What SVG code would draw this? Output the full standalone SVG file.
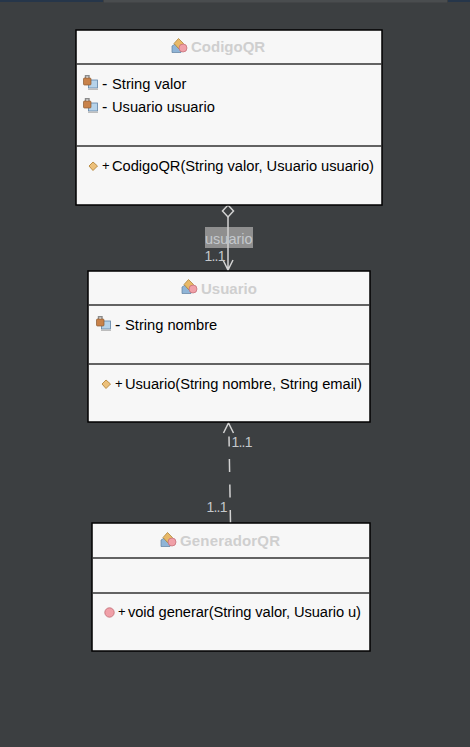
<svg xmlns="http://www.w3.org/2000/svg" width="470" height="747" viewBox="0 0 470 747">
<style>
text{font-family:"Liberation Sans",Arial,sans-serif}
.box{fill:#f7f7f7;stroke:#000;stroke-width:1.5}
.sep{stroke:#333;stroke-width:1.5}
.title{font-size:15px;font-weight:bold;fill:#cfcfcf}
.mem{font-size:14.700px;fill:#000}
.sign{font-size:13px;fill:#000}
.minus{font-size:16px;fill:#000}
.lab{font-size:14px;fill:#c4c8cc}
.conn{fill:none;stroke:#d2d2d2;stroke-width:1.5}
</style>
<defs>
<g id="clsIcon">
<path d="M0 8L5 5L9 9L9 14.500L0 14.500Z" fill="#8fb4d6" stroke="#5f7f9f" stroke-width=".7"/>
<path d="M6.500 0.500L11.500 5.500L6.500 10.500L2 5.500Z" fill="#e8b868" stroke="#a67c30" stroke-width=".7"/>
<circle cx="11" cy="10" r="4" fill="#f0a0a8" stroke="#c06a72" stroke-width=".7"/>
</g>
<g id="attrIcon">
<rect x="5.500" y="5" width="9" height="8" fill="#b6d3ea" stroke="#5f82a5" stroke-width=".8"/>
<rect x="5" y="13.500" width="10" height="1.500" fill="#bdbdbd"/>
<path d="M2.500 3V0.800H6V3" fill="none" stroke="#8a8a8a" stroke-width="1.400"/>
<rect x="0.500" y="3" width="7.500" height="7" rx="1" fill="#c8824a" stroke="#8a5a32" stroke-width=".7"/>
</g>
<g id="ctorIcon">
<path d="M5 1L9.500 5L5 9.500L1 5Z" fill="#ecc07a" stroke="#bc8f48" stroke-width="1" stroke-linejoin="round"/>
</g>
</defs>
<rect width="470" height="747" fill="#3c3f41"/>
<rect x="0" y="0" width="103" height="2" fill="#26364a"/>
<rect x="104" y="0" width="343" height="2.500" fill="#4a4d4f"/>
<rect x="448" y="0" width="22" height="2" fill="#26364a"/>
<g id="connectors">
<rect x="205" y="227" width="48" height="21" fill="#8f8f8f"/>
<path class="conn" d="M228 217L228 270M223 260L228 270L233 260"/>
<path d="M228 205L233.500 211L228 217L222.500 211Z" fill="#3c3f41" stroke="#d2d2d2" stroke-width="1.500"/>
<text class="lab" x="205" y="244" style="font-size:14.500px">usuario</text>
<text class="lab" x="204.500" y="261" textLength="21">1..1</text>
<path class="conn" d="M230.500 523L229 436.500" stroke-dasharray="13 12.500"/>
<path class="conn" d="M223.500 433L228.500 423L233.500 433"/>
<text class="lab" x="231.500" y="447" textLength="21">1..1</text>
<text class="lab" x="206.500" y="512" textLength="21">1..1</text>
</g>
<g id="CodigoQR">
<rect class="box" x="76" y="30" width="306" height="175"/>
<path class="sep" d="M76 64H382M76 146H382"/>
<use href="#clsIcon" x="172" y="38"/>
<text class="title" x="191" y="52">CodigoQR</text>
<use href="#attrIcon" x="83" y="75"/>
<text class="minus" x="102" y="89">-</text>
<text class="mem" x="112" y="89">String valor</text>
<use href="#attrIcon" x="83" y="98"/>
<text class="minus" x="102" y="112">-</text>
<text class="mem" x="112" y="112">Usuario usuario</text>
<use href="#ctorIcon" x="88" y="161"/>
<text class="sign" x="102" y="170">+</text>
<text class="mem" x="112" y="171" textLength="262">CodigoQR(String valor, Usuario usuario)</text>
</g>
<g id="Usuario">
<rect class="box" x="88" y="271" width="282" height="151"/>
<path class="sep" d="M88 305H370M88 364H370"/>
<use href="#clsIcon" x="182" y="279"/>
<text class="title" x="201" y="294">Usuario</text>
<use href="#attrIcon" x="96" y="316"/>
<text class="minus" x="115" y="330">-</text>
<text class="mem" x="125" y="330">String nombre</text>
<use href="#ctorIcon" x="101" y="379"/>
<text class="sign" x="115" y="388">+</text>
<text class="mem" x="125" y="389" textLength="237">Usuario(String nombre, String email)</text>
</g>
<g id="GeneradorQR">
<rect class="box" x="92" y="523" width="278" height="128"/>
<path class="sep" d="M92 558H370M92 593H370"/>
<use href="#clsIcon" x="161" y="532"/>
<text class="title" x="180" y="546" textLength="100">GeneradorQR</text>
<circle cx="109.500" cy="612.500" r="4.700" fill="#f0a0a8" stroke="#c06a72" stroke-width=".8"/>
<text class="sign" x="118" y="616">+</text>
<text class="mem" x="128" y="617" textLength="233">void generar(String valor, Usuario u)</text>
</g>
</svg>
